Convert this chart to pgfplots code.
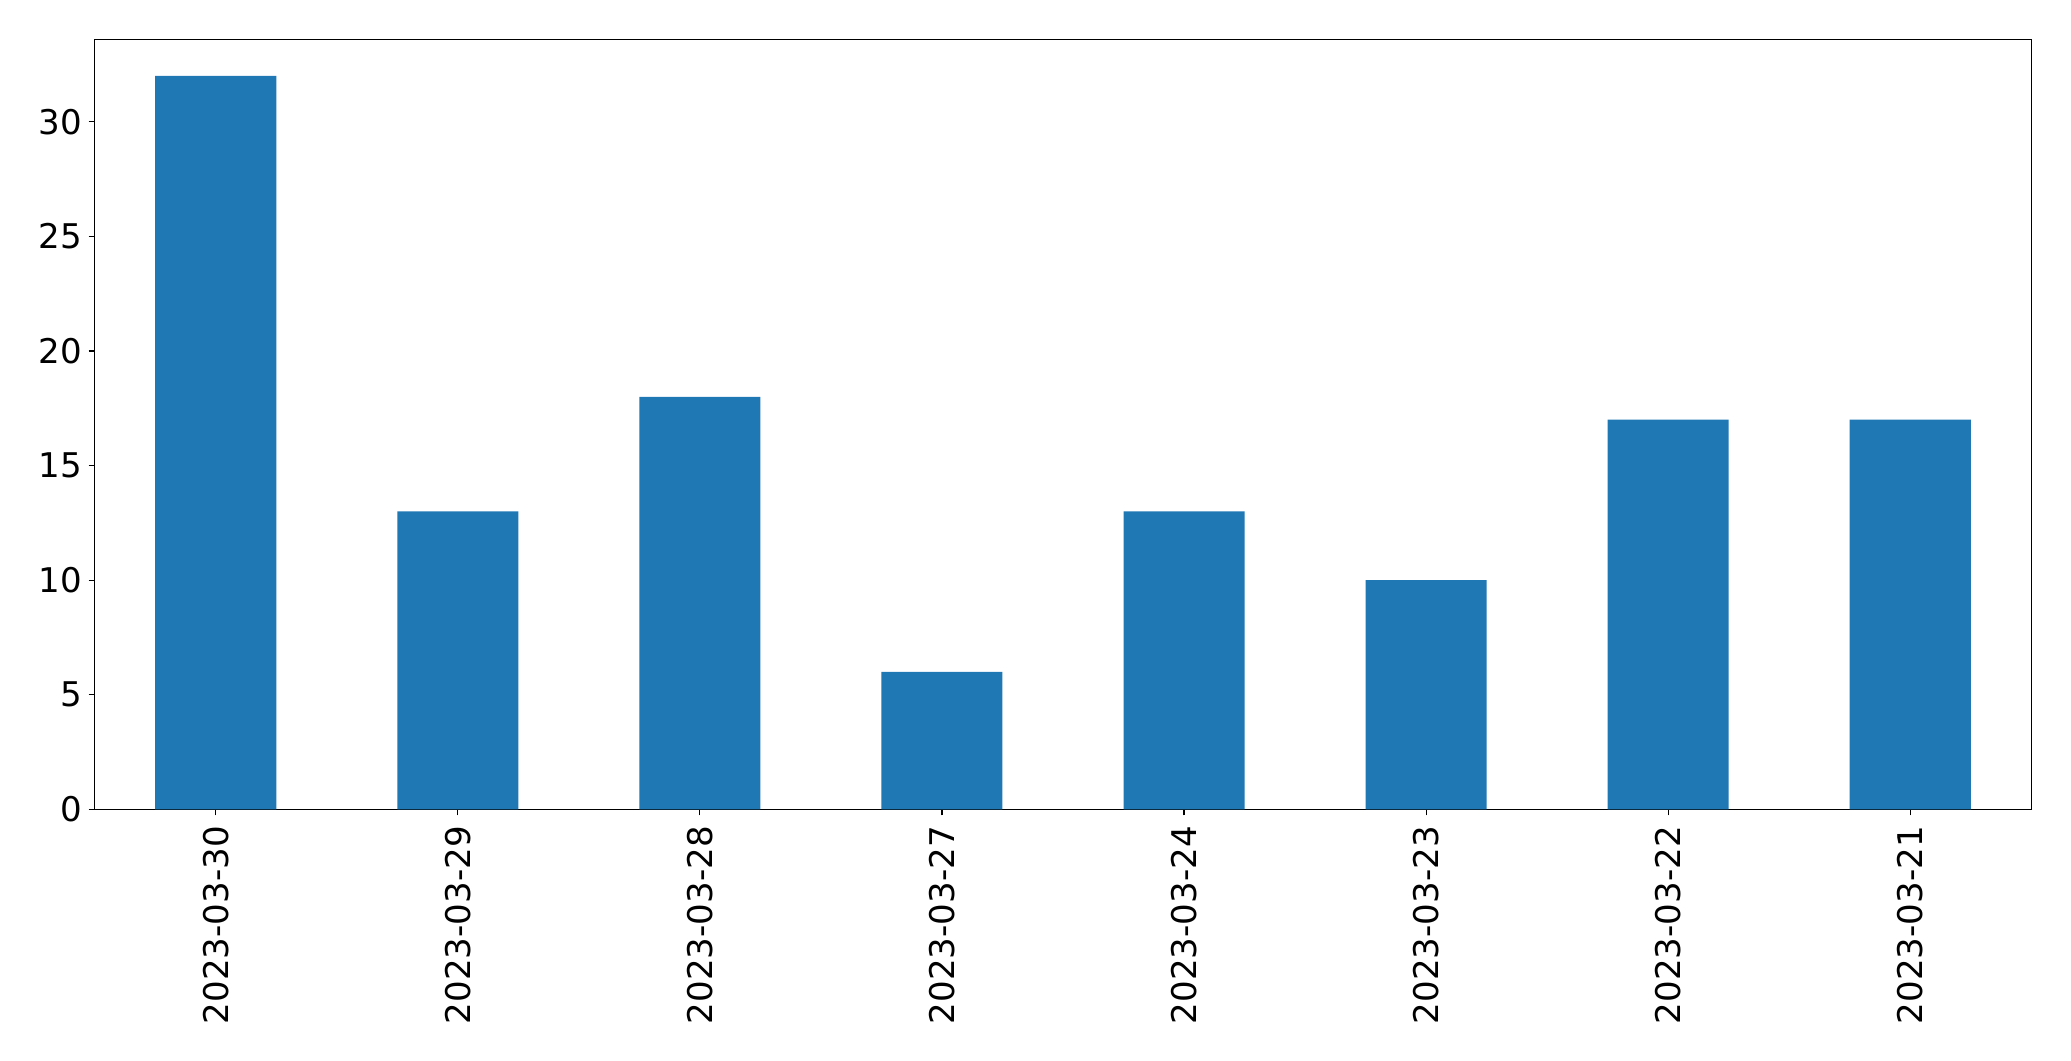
\documentclass[border=0pt]{standalone}
\usepackage{pgfplots}
\pgfplotsset{compat=1.18}
\usepackage{fontspec}
\setmainfont{DejaVu Sans}
\definecolor{mplblue}{HTML}{1F77B4}
\begin{document}
\fontsize{24.5}{29}\selectfont
\begin{tikzpicture}
\path[use as bounding box] (-68.2pt,-181.2pt) rectangle (1422.9pt,582.7pt);
\begin{axis}[
  at={(0,0)}, anchor=south west,
  scale only axis,
  width=1394.4pt, height=554.4pt,
  xmin=-0.5, xmax=7.5, ymin=0, ymax=33.6,
  xtick={0,1,2,3,4,5,6,7},
  xticklabels={2023-03-30,2023-03-29,2023-03-28,2023-03-27,2023-03-24,2023-03-23,2023-03-22,2023-03-21},
  ytick={0,5,10,15,20,25,30},
  tick align=outside,
  tick pos=left,
  major tick length=4.3pt,
  every tick/.style={black, line width=0.8pt},
  axis line style={line width=0.8pt},
  x tick label style={rotate=90, anchor=east, inner sep=0pt},
  y tick label style={inner sep=0pt},
  xticklabel shift=7.7pt,
  yticklabel shift=4.8pt,
  /pgf/number format/assume math mode=true,
  ticklabel style={font=\fontsize{24.5}{29}\selectfont},
]
\addplot[ybar, bar width=0.5, fill=mplblue, draw=none] coordinates {
(0,32) (1,13) (2,18) (3,6) (4,13) (5,10) (6,17) (7,17)
};
\end{axis}
\end{tikzpicture}
\end{document}
